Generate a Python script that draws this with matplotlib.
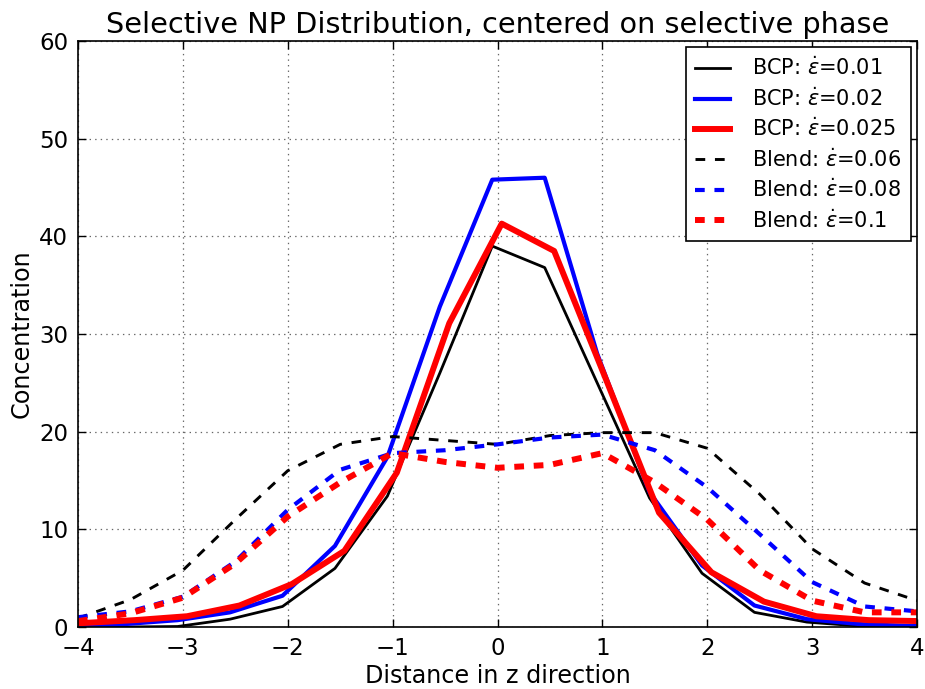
import matplotlib
matplotlib.use("Agg")
import matplotlib.pyplot as plt

# BCP samples (each run binned on its own grid)
bcp_x_001 = [-4.05, -3.55, -3.05, -2.55, -2.05, -1.55, -1.05, -0.55, -0.05,
             0.45, 0.95, 1.45, 1.95, 2.45, 2.95, 3.45, 3.95, 4.45]
bcp_y_001 = [0.0, 0.0, 0.05, 0.8, 2.1, 6.0, 13.4, 26.0, 39.0,
             36.8, 25.0, 13.2, 5.5, 1.5, 0.5, 0.1, 0.0, 0.0]

bcp_x_002 = [-4.05, -3.55, -3.05, -2.55, -2.05, -1.55, -1.05, -0.55, -0.05,
             0.45, 0.95, 1.45, 1.95, 2.45, 2.95, 3.45, 3.95, 4.45]
bcp_y_002 = [0.1, 0.3, 0.7, 1.5, 3.2, 8.3, 17.4, 32.8, 45.8,
             46.0, 28.0, 13.8, 6.3, 2.2, 0.8, 0.3, 0.1, 0.1]

bcp_x_0025 = [-4.46, -3.96, -3.46, -2.96, -2.46, -1.96, -1.46, -0.96, -0.46,
              0.04, 0.54, 1.04, 1.54, 2.04, 2.54, 3.04, 3.54, 4.04]
bcp_y_0025 = [0.3, 0.4, 0.7, 1.1, 2.2, 4.4, 7.8, 15.8, 31.1,
              41.3, 38.5, 25.2, 11.7, 5.6, 2.6, 1.1, 0.7, 0.6]

# Blend samples
blend_x = [-4.0, -3.5, -3.0, -2.5, -2.0, -1.5, -1.0, -0.5, 0.0,
           0.5, 1.0, 1.5, 2.0, 2.5, 3.0, 3.5, 4.0]
blend_y_006 = [0.9, 2.8, 5.8, 11.0, 16.0, 18.7, 19.5, 19.1, 18.7,
               19.6, 19.9, 19.9, 18.3, 13.6, 8.0, 4.5, 2.7]
blend_y_008 = [1.0, 1.6, 3.1, 6.7, 12.0, 16.1, 17.8, 18.1, 18.7,
               19.4, 19.7, 18.1, 14.3, 9.5, 4.6, 2.1, 1.6]
blend_y_01 = [0.6, 1.4, 3.0, 6.5, 11.3, 14.8, 17.8, 16.9, 16.3,
              16.6, 17.8, 14.8, 11.0, 5.8, 2.7, 1.5, 1.5]

x_ticks = [-4, -3, -2, -1, 0, 1, 2, 3, 4]
y_ticks = [0, 10, 20, 30, 40, 50, 60]

plt.rcParams["lines.scale_dashes"] = False
plt.rcParams["lines.dashed_pattern"] = [7, 7]
plt.rcParams["font.family"] = "DejaVu Sans"

fig = plt.figure(figsize=(9.25, 6.89), dpi=100)
ax = fig.add_axes([0.0843, 0.090, 0.9071, 0.8505])

ax.plot(bcp_x_001, bcp_y_001, color="black", lw=2, label=r"BCP: $\dot{\varepsilon}$=0.01")
ax.plot(bcp_x_002, bcp_y_002, color="blue", lw=3, label=r"BCP: $\dot{\varepsilon}$=0.02")
ax.plot(bcp_x_0025, bcp_y_0025, color="red", lw=4.3, label=r"BCP: $\dot{\varepsilon}$=0.025")
ax.plot(blend_x, blend_y_006, color="black", lw=2.1, ls="--", dash_capstyle="butt",
        label=r"Blend: $\dot{\varepsilon}$=0.06")
ax.plot(blend_x, blend_y_008, color="blue", lw=3, ls="--", dash_capstyle="butt",
        label=r"Blend: $\dot{\varepsilon}$=0.08")
ax.plot(blend_x, blend_y_01, color="red", lw=4.3, ls="--", dash_capstyle="butt",
        label=r"Blend: $\dot{\varepsilon}$=0.1")

ax.set_xlim(-4, 4)
ax.set_ylim(0, 60)
ax.set_xticks(x_ticks)
ax.set_yticks(y_ticks)
ax.set_xticklabels([("\u2212%d" % -t) if t < 0 else str(t) for t in x_ticks])
ax.tick_params(direction="in", top=True, right=True, labelsize=16.5, length=6, width=1, pad=7)
ax.grid(True, ls=(0, (1, 3)), color="0.4", lw=0.9)
for s in ax.spines.values():
    s.set_linewidth(1.2)

ax.set_title("Selective NP Distribution, centered on selective phase", fontsize=20.7, pad=6)
ax.set_xlabel("Distance in z direction", fontsize=17.2, labelpad=3)
ax.set_ylabel("Concentration", fontsize=17.2, labelpad=4)

leg = ax.legend(loc="upper right", fontsize=15, fancybox=False, framealpha=1,
                edgecolor="black", borderaxespad=0.3, handlelength=1.7,
                labelspacing=0.37, handletextpad=1.05, borderpad=0.45)
leg.get_frame().set_linewidth(1.2)

fig.savefig("out.png", dpi=100, facecolor="white")
